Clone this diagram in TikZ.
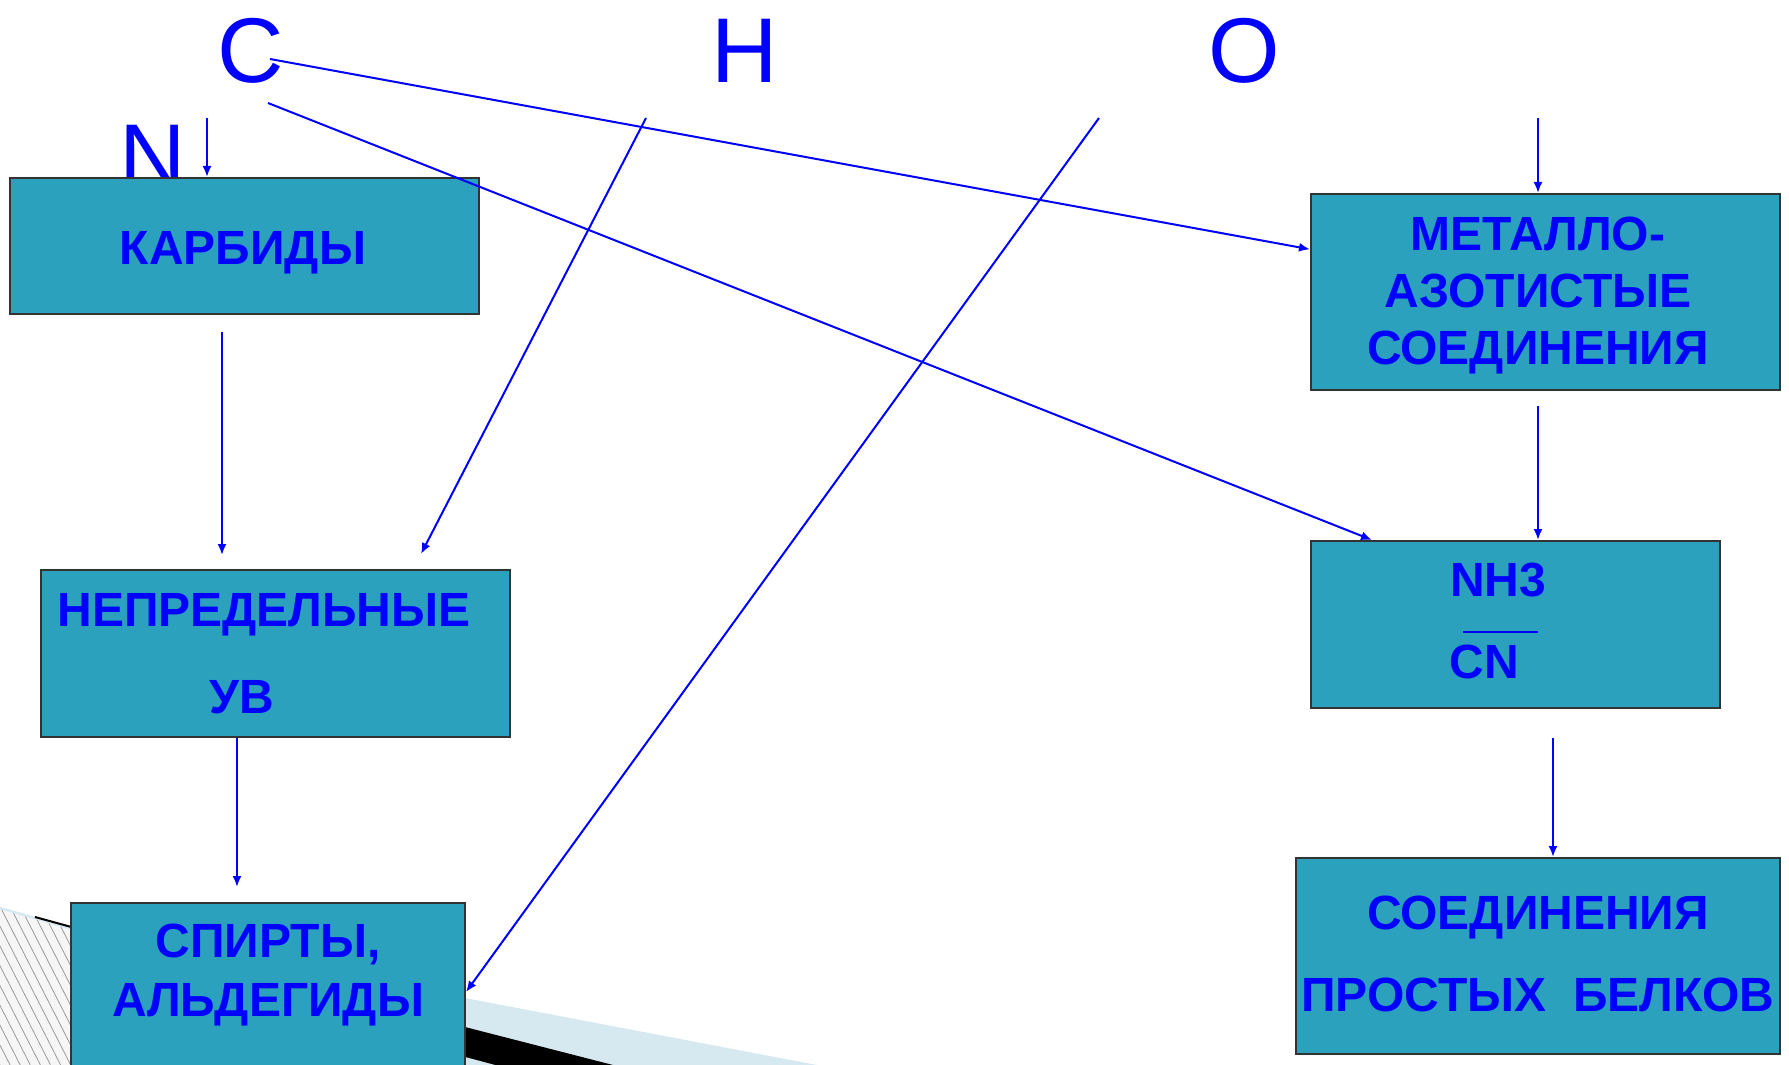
\documentclass[tikz,border=0pt]{standalone}
\usepackage{fontspec}
\setmainfont{Liberation Sans}
\usetikzlibrary{arrows.meta,patterns.meta}

\definecolor{boxteal}{RGB}{44,161,190}
\definecolor{paleblue}{RGB}{215,233,240}
\definecolor{hatchbg}{RGB}{246,246,246}

\tikzset{
  box/.style={rectangle, draw=black!80, line width=1pt, fill=boxteal, inner sep=0pt},
  elem/.style={text=blue, font=\fontsize{46}{50}\selectfont, anchor=base, inner sep=0pt},
  boxtext/.style={text=blue, font=\fontsize{24}{28}\selectfont\bfseries, anchor=base, inner sep=0pt},
  arr/.style={draw=blue, line width=1pt, -{Latex[length=5.5pt,width=4.5pt]}},
}

\begin{document}
\begin{tikzpicture}[x=0.5pt, y=-0.5pt]
  \useasboundingbox (0,0) rectangle (1789,1065);

  % --- bakgrunn nede til venstre ---
  \fill[hatchbg] (0,908) -- (200,967) -- (200,1065) -- (0,1065) -- cycle;
  \fill[pattern={Lines[angle=-63,distance=4.5pt,line width=0.4pt]}, pattern color=gray!80]
    (0,908) -- (200,967) -- (200,1065) -- (0,1065) -- cycle;
  \draw[paleblue, line width=1.2pt] (0,908) -- (80,931);
  \draw[black, line width=1pt] (35,917) -- (75,928);
  \fill[paleblue] (465,998) -- (817,1065) -- (465,1065) -- cycle;
  \fill[black] (465,1027) -- (613,1065) -- (465,1065) -- cycle;
  \fill[paleblue] (465,1057) -- (495,1065) -- (465,1065) -- cycle;

  % --- grunnstoffer ---
  \node[elem] (elC) at (251,83) {C};
  \node[elem] (elH) at (745,83) {H};
  \node[elem] (elO) at (1244,83) {O};
  \node[elem] (elN) at (153,189) {N};

  % --- bokser ---
  \node[box, minimum width=234.5pt, minimum height=68pt]   (karb)  at (244.5,246)  {};
  \node[box, minimum width=234.5pt, minimum height=98pt]   (metal) at (1545.5,292) {};
  \node[box, minimum width=234.5pt, minimum height=83.5pt] (nepr)  at (275.5,653.5) {};
  \node[box, minimum width=204.5pt, minimum height=83.5pt] (nh3)   at (1515.5,624.5) {};
  \node[box, minimum width=197pt,   minimum height=100pt]  (spirt) at (268,1003)   {};
  \node[box, minimum width=242pt,   minimum height=98pt]   (sbel)  at (1538,956)   {};

  % --- tekst i boksene ---
  \node[boxtext] (tkarb)  at (243,264)  {КАРБИДЫ};
  \node[boxtext] (tmet1)  at (1538,250) {МЕТАЛЛО-};
  \node[boxtext] (tmet2)  at (1538,307) {АЗОТИСТЫЕ};
  \node[boxtext] (tmet3)  at (1538,364) {СОЕДИНЕНИЯ};
  \node[boxtext] (tnep1)  at (264,626)  {НЕПРЕДЕЛЬНЫЕ};
  \node[boxtext] (tnep2)  at (242,713)  {УВ};
  \node[boxtext] (tnh)    at (1498,596) {NH3};
  \node[boxtext] (tcn)    at (1484,678) {CN};
  \draw[blue, line width=1pt] (1463,632) -- (1538,632);
  \node[boxtext] (tspi1)  at (268,957)  {СПИРТЫ,};
  \node[boxtext] (tspi2)  at (268,1016) {АЛЬДЕГИДЫ};
  \node[boxtext] (tsbe1)  at (1538,929) {СОЕДИНЕНИЯ};
  \node[boxtext] (tsbe2)  at (1538,1011) {ПРОСТЫХ\ \ БЕЛКОВ};

  % --- piler ---
  \coordinate (nA) at (207,118);
  \coordinate (cA) at (270,59);
  \coordinate (cB) at (268,103);
  \coordinate (hA) at (646,118);
  \coordinate (oA) at (1099,118);
  \coordinate (mA) at (1538,118);
  \draw[arr] (nA) -- (nA |- karb.north);
  \draw[arr] (cA) -- (metal);
  \draw[arr] (cB) -- ([xshift=31pt]nh3.north west);
  \draw[arr] (hA) -- ([xshift=72.75pt,yshift=7.5pt]nepr.north);
  \draw[arr] (oA) -- ([yshift=5.5pt]spirt.east);
  \draw[arr] (mA) -- (mA |- metal.north);
  \draw[arr, shorten <=8.5pt, shorten >=7pt]
    ([xshift=-11.25pt]karb.south) -- ([xshift=-11.25pt]karb.south |- nepr.north);
  \draw[arr, shorten >=7.5pt]
    ([xshift=-19.25pt]nepr.south) -- ([xshift=-19.25pt]nepr.south |- spirt.north);
  \draw[arr, shorten <=7.5pt]
    ([xshift=-3.75pt]metal.south) -- ([xshift=-3.75pt]metal.south |- nh3.north);
  \draw[arr, shorten <=14.5pt]
    ([xshift=18.75pt]nh3.south) -- ([xshift=18.75pt]nh3.south |- sbel.north);
\end{tikzpicture}
\end{document}
